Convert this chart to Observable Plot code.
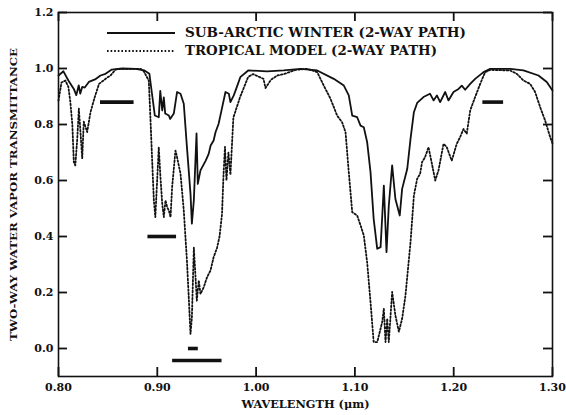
<!DOCTYPE html>
<html><head><meta charset="utf-8">
<script src="https://cdn.jsdelivr.net/npm/d3@7"></script>
<script src="https://cdn.jsdelivr.net/npm/@observablehq/plot@0.6"></script>
<style>
body{margin:0;background:#fff;}
#chart{position:relative;width:566px;height:415px;}
#chart svg.overlay{position:absolute;left:0;top:0;pointer-events:none;}
</style></head><body><div id="chart"></div>
<script>
// Sub-arctic winter (2-way path) — solid
const arcticWave = [0.800,0.805,0.810,0.8155,0.818,0.8205,0.822,0.824,0.8266,0.8307,0.837,0.8425,0.8476,0.854,0.8645,0.878,0.887,0.892,0.895,0.8975,0.9015,0.903,0.905,0.9066,0.908,0.9117,0.913,0.9167,0.920,0.9235,0.9268,0.930,0.9336,0.935,0.937,0.9397,0.941,0.9437,0.949,0.952,0.954,0.957,0.959,0.962,0.9657,0.969,0.9724,0.974,0.9774,0.981,0.984,0.992,1.011,1.028,1.045,1.0618,1.0786,1.0888,1.0938,1.0973,1.1023,1.1057,1.109,1.1124,1.1158,1.119,1.1226,1.126,1.1293,1.132,1.1343,1.1377,1.141,1.1454,1.1478,1.153,1.1563,1.1597,1.163,1.1694,1.176,1.1796,1.183,1.1863,1.1914,1.1947,1.1998,1.2049,1.2082,1.2116,1.2167,1.2217,1.2302,1.237,1.2572,1.2706,1.2858,1.2942,1.300];
const arcticT = [0.975,0.990,0.957,0.927,0.905,0.940,0.910,0.934,0.932,0.952,0.961,0.975,0.981,0.996,1.000,0.999,0.993,0.981,0.900,0.832,0.826,0.920,0.850,0.897,0.839,0.832,0.820,0.839,0.916,0.910,0.874,0.719,0.553,0.446,0.530,0.768,0.588,0.636,0.671,0.695,0.725,0.743,0.773,0.802,0.862,0.916,0.910,0.880,0.904,0.939,0.969,0.993,0.990,0.993,0.999,0.993,0.963,0.939,0.904,0.832,0.826,0.796,0.790,0.737,0.630,0.463,0.356,0.362,0.582,0.344,0.510,0.654,0.534,0.475,0.570,0.642,0.749,0.844,0.877,0.898,0.910,0.886,0.904,0.880,0.916,0.886,0.916,0.927,0.939,0.924,0.945,0.963,0.987,0.999,0.999,0.993,0.975,0.952,0.921];

// Tropical model (2-way path) — dotted
const tropicWave = [0.800,0.803,0.807,0.810,0.812,0.814,0.8155,0.817,0.819,0.8206,0.822,0.824,0.8256,0.829,0.8324,0.836,0.841,0.8476,0.8526,0.8577,0.8628,0.883,0.8863,0.8914,0.893,0.8948,0.8965,0.898,0.9015,0.9032,0.905,0.9066,0.9083,0.910,0.9117,0.9134,0.915,0.9184,0.920,0.9235,0.9268,0.930,0.932,0.9336,0.935,0.937,0.9387,0.940,0.942,0.9437,0.947,0.9504,0.9539,0.957,0.9605,0.963,0.9655,0.967,0.9685,0.970,0.972,0.974,0.977,0.984,0.992,0.997,1.0075,1.0095,1.015,1.0216,1.028,1.040,1.0517,1.0618,1.0685,1.0753,1.082,1.087,1.0905,1.0938,1.0973,1.1023,1.1057,1.109,1.1124,1.1158,1.119,1.1226,1.1276,1.1293,1.131,1.1327,1.1343,1.1377,1.141,1.1445,1.1478,1.1512,1.1563,1.1597,1.163,1.166,1.168,1.171,1.1745,1.178,1.1813,1.1846,1.1897,1.193,1.198,1.2031,1.2065,1.2099,1.2132,1.2167,1.2217,1.2268,1.2318,1.237,1.2572,1.2639,1.2706,1.2774,1.2824,1.2875,1.2926,1.2976,1.300];
const tropicT = [0.885,0.950,0.957,0.934,0.880,0.800,0.666,0.654,0.750,0.857,0.786,0.679,0.810,0.773,0.844,0.890,0.945,0.963,0.975,0.996,0.999,0.999,0.990,0.957,0.826,0.671,0.529,0.469,0.719,0.612,0.517,0.469,0.529,0.505,0.493,0.469,0.576,0.707,0.683,0.624,0.493,0.314,0.171,0.052,0.110,0.360,0.255,0.171,0.243,0.195,0.219,0.255,0.279,0.326,0.360,0.400,0.480,0.620,0.720,0.600,0.700,0.620,0.825,0.900,0.970,0.980,0.963,0.930,0.960,0.975,0.980,0.995,0.999,0.987,0.939,0.892,0.832,0.808,0.773,0.630,0.487,0.475,0.440,0.404,0.308,0.166,0.023,0.023,0.094,0.142,0.023,0.107,0.023,0.202,0.118,0.060,0.106,0.190,0.380,0.546,0.606,0.624,0.666,0.683,0.719,0.659,0.600,0.636,0.731,0.719,0.671,0.731,0.755,0.784,0.767,0.850,0.898,0.945,0.987,0.995,0.993,0.981,0.957,0.945,0.916,0.862,0.814,0.755,0.732];

// Horizontal reference bars
const barWave1 = [0.842, 0.890, 0.931, 0.915, 1.229];
const barWave2 = [0.876, 0.919, 0.941, 0.965, 1.250];
const barT     = [0.88, 0.40, 0.00, -0.043, 0.88];

// Ticks
const xTicks = [0.80, 0.90, 1.00, 1.10, 1.20, 1.30];
const yTicks = [0.0, 0.2, 0.4, 0.6, 0.8, 1.0, 1.2];

const legendLabels = ["SUB-ARCTIC WINTER (2-WAY PATH)", "TROPICAL MODEL (2-WAY PATH)"];

const arctic = arcticWave.map((w, i) => ({w, t: arcticT[i]}));
const tropic = tropicWave.map((w, i) => ({w, t: tropicT[i]}));
const bars = barT.map((t, i) => ({x1: barWave1[i], x2: barWave2[i], t}));

const ink = "#111";
const font = "'DejaVu Serif', serif";
const W = 566, H = 415, mT = 12, mB = 39, mL = 58, mR = 14, tk = 9;
const innerW = W - mL - mR, innerH = H - mT - mB;
const xDom = [0.8, 1.3], yDom = [-0.1, 1.2];
// tick length converted into data units of each scale
const tX = tk / innerW * (xDom[1] - xDom[0]);
const tY = tk / innerH * (yDom[1] - yDom[0]);
const dots = "1.6,2";

const plot = Plot.plot({
  width: W, height: H,
  marginTop: mT, marginBottom: mB, marginLeft: mL, marginRight: mR,
  style: {fontFamily: font, fontWeight: "bold", fontSize: "11px", color: ink, background: "#fff"},
  x: {domain: xDom},
  y: {domain: yDom},
  marks: [
    Plot.axisY(yTicks, {anchor: "left", tickSize: 0, tickPadding: 5, tickFormat: d3.format(".1f"),
      label: "TWO-WAY WATER VAPOR TRANSMITTANCE", labelAnchor: "center", labelOffset: 49, labelArrow: "none"}),
    Plot.axisX(xTicks, {anchor: "bottom", tickSize: 0, tickPadding: 7, tickFormat: d3.format(".2f"),
      label: "WAVELENGTH (μm)", labelAnchor: "center", labelOffset: 31, labelArrow: "none"}),
    // inward tick marks on all four sides
    Plot.ruleY(yTicks, {y: d => d, x1: () => xDom[0], x2: () => xDom[0] + tX, stroke: ink, strokeWidth: 1.8}),
    Plot.ruleY(yTicks, {y: d => d, x1: () => xDom[1] - tX, x2: () => xDom[1], stroke: ink, strokeWidth: 1.8}),
    Plot.ruleX(xTicks, {x: d => d, y1: () => yDom[0], y2: () => yDom[0] + tY, stroke: ink, strokeWidth: 1.8}),
    Plot.ruleX(xTicks, {x: d => d, y1: () => yDom[1] - tY, y2: () => yDom[1], stroke: ink, strokeWidth: 1.8}),
    Plot.frame({stroke: ink, strokeWidth: 1.6}),
    Plot.line(tropic, {x: "w", y: "t", stroke: ink, strokeWidth: 1.8, strokeDasharray: dots}),
    Plot.line(arctic, {x: "w", y: "t", stroke: ink, strokeWidth: 1.8}),
    Plot.link(bars, {x1: "x1", x2: "x2", y1: "t", y2: "t", stroke: ink, strokeWidth: 3.6})
  ]
});

const chart = document.getElementById("chart");
chart.appendChild(plot);

// stretch axis labels to the reference's lengths
const yl = plot.querySelector('g[aria-label="y-axis label"] text');
if (yl) { yl.setAttribute("textLength", 293); yl.setAttribute("lengthAdjust", "spacingAndGlyphs"); yl.style.fontSize = "10px"; }
const xl = plot.querySelector('g[aria-label="x-axis label"] text');
if (xl) { xl.setAttribute("textLength", 128); xl.setAttribute("lengthAdjust", "spacingAndGlyphs"); xl.style.fontSize = "10.5px"; }

// legend overlay
const ov = d3.select(chart).append("svg").attr("class", "overlay").attr("width", W).attr("height", H);
const rows = [{y: 33, dash: null, len: 281}, {y: 51, dash: dots, len: 252}];
rows.forEach((r, i) => {
  ov.append("line").attr("x1", 107).attr("x2", 175).attr("y1", r.y).attr("y2", r.y)
    .attr("stroke", ink).attr("stroke-width", 1.8).attr("stroke-dasharray", r.dash);
  ov.append("text").attr("x", 185).attr("y", r.y).attr("dy", "0.36em")
    .attr("font-family", font).attr("font-weight", "bold").attr("font-size", 12).attr("fill", ink)
    .attr("textLength", r.len).attr("lengthAdjust", "spacingAndGlyphs").text(legendLabels[i]);
});
</script></body></html>
